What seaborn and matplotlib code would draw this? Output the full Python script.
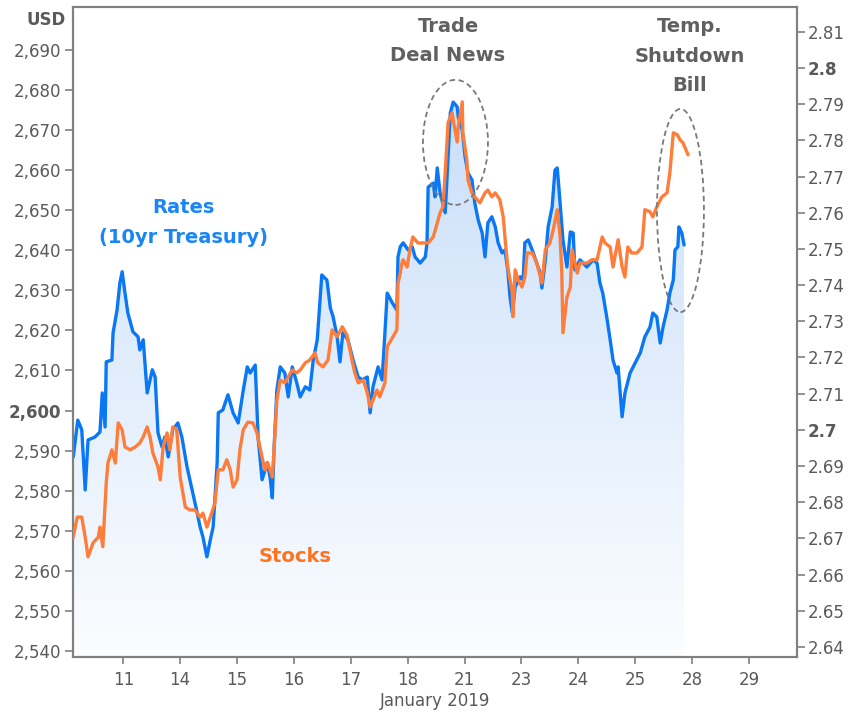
import numpy as np
import pandas as pd
import seaborn as sns
import matplotlib.pyplot as plt
from matplotlib.colors import LinearSegmentedColormap
from matplotlib.patches import Ellipse, PathPatch

# positions are trading sessions: 1 = Jan 11, 2 = Jan 14, ... 12 = Jan 29
day_labels = ['11', '14', '15', '16', '17', '18', '21', '23', '24', '25', '28', '29']

# 10yr Treasury yield (right axis)
rate_t = [0.12, 0.20, 0.27, 0.33, 0.38, 0.50, 0.59, 0.63, 0.68, 0.70,
          0.80, 0.82, 0.89, 0.94, 0.98, 1.03, 1.08, 1.17, 1.26, 1.29,
          1.35, 1.42, 1.51, 1.56, 1.61, 1.68, 1.73, 1.79, 1.87, 1.96,
          2.03, 2.12, 2.21, 2.30, 2.35, 2.40, 2.47, 2.53, 2.58, 2.65,
          2.67, 2.75, 2.84, 2.93, 3.02, 3.11, 3.18, 3.23, 3.32, 3.37,
          3.44, 3.53, 3.58, 3.62, 3.65, 3.70, 3.76, 3.84, 3.90, 3.97,
          4.05, 4.11, 4.20, 4.28, 4.34, 4.41, 4.49, 4.58, 4.64, 4.69,
          4.76, 4.81, 4.86, 4.95, 5.04, 5.13, 5.20, 5.29, 5.34, 5.39,
          5.48, 5.55, 5.60, 5.64, 5.73, 5.81, 5.83, 5.87, 5.92, 6.01,
          6.08, 6.13, 6.22, 6.31, 6.34, 6.36, 6.45, 6.48, 6.52, 6.57,
          6.66, 6.71, 6.75, 6.80, 6.87, 6.89, 6.96, 7.01, 7.06, 7.13,
          7.18, 7.24, 7.31, 7.36, 7.41, 7.48, 7.54, 7.59, 7.66, 7.71,
          7.76, 7.80, 7.84, 7.89, 7.98, 8.03, 8.06, 8.12, 8.19, 8.27,
          8.33, 8.36, 8.42, 8.47, 8.54, 8.59, 8.63, 8.68, 8.73, 8.80,
          8.86, 8.91, 8.94, 9.03, 9.15, 9.26, 9.33, 9.38, 9.43, 9.50,
          9.56, 9.61, 9.68, 9.70, 9.77, 9.82, 9.91, 10.00, 10.09, 10.17,
          10.26, 10.31, 10.38, 10.44, 10.49, 10.56, 10.61, 10.67, 10.70, 10.75,
          10.77, 10.82, 10.86]
rate_vals = [2.6925, 2.7027, 2.7000, 2.6834, 2.6972, 2.6980, 2.6994, 2.7102, 2.7008, 2.7188,
             2.7193, 2.7268, 2.7331, 2.7406, 2.7437, 2.7378, 2.7323, 2.7271, 2.7257, 2.7221,
             2.7249, 2.7102, 2.7166, 2.7146, 2.6992, 2.6953, 2.6980, 2.6925, 2.7000, 2.7019,
             2.6980, 2.6898, 2.6834, 2.6770, 2.6732, 2.6704, 2.6649, 2.6696, 2.6732, 2.6909,
             2.7047, 2.7055, 2.7097, 2.7047, 2.7019, 2.7110, 2.7174, 2.7157, 2.7179, 2.6980,
             2.6862, 2.6909, 2.6870, 2.6812, 2.6945, 2.7110, 2.7174, 2.7157, 2.7091, 2.7174,
             2.7130, 2.7091, 2.7119, 2.7110, 2.7193, 2.7249, 2.7428, 2.7414, 2.7337, 2.7312,
             2.7257, 2.7188, 2.7268, 2.7249, 2.7193, 2.7146, 2.7138, 2.7146, 2.7047, 2.7119,
             2.7174, 2.7138, 2.7268, 2.7378, 2.7351, 2.7331, 2.7478, 2.7506, 2.7517, 2.7497,
             2.7506, 2.7478, 2.7461, 2.7478, 2.7517, 2.7671, 2.7682, 2.7644, 2.7724, 2.7655,
             2.7600, 2.7754, 2.7876, 2.7906, 2.7893, 2.7865, 2.7829, 2.7754, 2.7710, 2.7691,
             2.7627, 2.7580, 2.7544, 2.7478, 2.7572, 2.7589, 2.7561, 2.7517, 2.7489, 2.7497,
             2.7442, 2.7367, 2.7323, 2.7395, 2.7423, 2.7414, 2.7517, 2.7525, 2.7497, 2.7461,
             2.7434, 2.7392, 2.7470, 2.7561, 2.7616, 2.7718, 2.7724, 2.7627, 2.7525, 2.7450,
             2.7547, 2.7544, 2.7442, 2.7470, 2.7450, 2.7470, 2.7461, 2.7406, 2.7378, 2.7312,
             2.7249, 2.7193, 2.7157, 2.7174, 2.7036, 2.7102, 2.7157, 2.7185, 2.7213, 2.7257,
             2.7284, 2.7323, 2.7312, 2.7240, 2.7284, 2.7331, 2.7378, 2.7414, 2.7497, 2.7506,
             2.7561, 2.7544, 2.7511]

# S&P 500 futures in USD (left axis)
stock_t = [0.12, 0.19, 0.27, 0.33, 0.38, 0.47, 0.56, 0.59, 0.64, 0.70,
           0.73, 0.80, 0.86, 0.91, 0.98, 1.03, 1.12, 1.21, 1.29, 1.35,
           1.42, 1.47, 1.52, 1.61, 1.65, 1.70, 1.77, 1.82, 1.87, 1.94,
           2.00, 2.09, 2.17, 2.26, 2.35, 2.40, 2.47, 2.53, 2.61, 2.67,
           2.75, 2.82, 2.88, 2.93, 3.00, 3.05, 3.11, 3.19, 3.28, 3.35,
           3.44, 3.49, 3.54, 3.62, 3.65, 3.70, 3.76, 3.84, 3.90, 3.97,
           4.05, 4.11, 4.20, 4.28, 4.37, 4.42, 4.51, 4.60, 4.67, 4.76,
           4.85, 4.93, 5.02, 5.07, 5.13, 5.22, 5.29, 5.34, 5.39, 5.46,
           5.51, 5.60, 5.64, 5.74, 5.81, 5.83, 5.87, 5.90, 5.92, 5.99,
           6.04, 6.09, 6.18, 6.27, 6.36, 6.45, 6.52, 6.57, 6.62, 6.67,
           6.71, 6.78, 6.80, 6.87, 6.89, 6.96, 6.97, 7.04, 7.06, 7.13,
           7.18, 7.27, 7.36, 7.41, 7.48, 7.54, 7.62, 7.68, 7.71, 7.76,
           7.84, 7.85, 7.89, 7.94, 8.01, 8.06, 8.10, 8.19, 8.27, 8.36,
           8.42, 8.50, 8.56, 8.63, 8.68, 8.71, 8.73, 8.80, 8.86, 8.89,
           8.98, 9.03, 9.15, 9.24, 9.33, 9.42, 9.47, 9.56, 9.61, 9.70,
           9.77, 9.82, 9.87, 9.94, 10.03, 10.12, 10.17, 10.26, 10.31, 10.38,
           10.47, 10.56, 10.61, 10.67, 10.74, 10.79, 10.84, 10.93]
stock_vals = [2568.4, 2573.4, 2573.4, 2568.4, 2563.5, 2567.0, 2568.4, 2570.9, 2566.0, 2581.9,
              2586.9, 2590.2, 2586.9, 2596.9, 2595.2, 2590.9, 2590.2, 2590.9, 2591.9, 2593.4,
              2595.9, 2593.4, 2589.4, 2585.9, 2582.7, 2590.9, 2594.4, 2590.2, 2595.9, 2595.2,
              2583.4, 2575.9, 2575.2, 2575.2, 2573.4, 2574.4, 2570.9, 2573.4, 2576.9, 2585.2,
              2585.2, 2587.7, 2585.2, 2580.9, 2582.7, 2590.2, 2595.2, 2597.1, 2596.9, 2594.4,
              2588.4, 2585.2, 2586.9, 2583.4, 2590.2, 2602.6, 2607.6, 2606.9, 2608.4, 2610.1,
              2609.4, 2610.1, 2611.9, 2612.6, 2614.4, 2611.9, 2610.9, 2612.6, 2620.1, 2618.4,
              2620.9, 2618.9, 2612.6, 2609.4, 2606.9, 2607.6, 2604.4, 2600.9, 2602.6, 2605.1,
              2603.4, 2606.9, 2615.9, 2618.4, 2620.1, 2631.8, 2634.3, 2636.8, 2637.6, 2635.8,
              2640.1, 2643.3, 2641.8, 2641.8, 2641.8, 2643.3, 2646.8, 2649.3, 2650.8, 2661.8,
              2671.8, 2674.3, 2672.5, 2667.0, 2670.8, 2677.0, 2669.3, 2662.5, 2657.5, 2654.3,
              2653.3, 2651.8, 2654.3, 2655.0, 2653.3, 2654.3, 2652.6, 2648.3, 2643.3, 2635.8,
              2629.3, 2623.4, 2635.1, 2632.6, 2630.8, 2633.3, 2639.3, 2639.3, 2636.8, 2631.8,
              2640.1, 2641.8, 2645.1, 2650.1, 2643.3, 2634.3, 2619.4, 2628.3, 2630.8, 2640.1,
              2634.3, 2636.8, 2636.8, 2637.6, 2637.6, 2643.3, 2641.8, 2640.8, 2635.8, 2642.6,
              2635.8, 2633.3, 2640.8, 2639.3, 2639.3, 2640.8, 2650.1, 2649.6, 2648.3, 2650.8,
              2653.3, 2654.3, 2659.3, 2669.3, 2668.8, 2667.5, 2666.8, 2663.8]

rates = pd.DataFrame({'t': rate_t, 'rate': rate_vals})
stocks = pd.DataFrame({'t': stock_t, 'price': stock_vals})

sns.set_style('white')
plt.rcParams['font.family'] = ['DejaVu Sans']

BLUE = '#0a78f5'
ORANGE = '#ff7d3b'
GRAY_TXT = '#5a5a5a'
GRAY_AX = '#808080'
XLIM = (0.11, 12.84)
RLIM = (2.6372, 2.8168)
SLIM = (2538.5, 2700.6)

fig = plt.figure(figsize=(8.49, 7.14), dpi=100)
ax = fig.add_axes([0.0856, 0.0798, 0.8528, 0.91])
ax2 = ax.twinx()
ax.set_zorder(ax2.get_zorder() + 1)
ax.patch.set_visible(False)

# gradient area under the rates line
band = ax2.fill_between(rates['t'], rates['rate'], RLIM[0], facecolor='none', edgecolor='none')
clip = PathPatch(band.get_paths()[0], transform=ax2.transData, facecolor='none', edgecolor='none')
ax2.add_patch(clip)
grad = np.linspace(0, 1, 256).reshape(-1, 1)
cmap = LinearSegmentedColormap.from_list('fill', ['#fbfdff', '#c2daf8'])
im = ax2.imshow(grad, extent=[XLIM[0], XLIM[1], RLIM[0], RLIM[1]], origin='lower',
                aspect='auto', cmap=cmap, zorder=0)
im.set_clip_path(clip)

sns.lineplot(data=rates, x='t', y='rate', ax=ax2, color=BLUE, lw=2.4, estimator=None, zorder=3)
sns.lineplot(data=stocks, x='t', y='price', ax=ax, color=ORANGE, lw=2.4, estimator=None, zorder=3)

ax.set_xlim(XLIM)
ax.set_ylim(SLIM)
ax2.set_ylim(RLIM)

# ticks
s_ticks = list(range(2540, 2691, 10))
ax.set_yticks(s_ticks)
ax.set_yticklabels([f'{v:,}' for v in s_ticks])
r_ticks = np.round(np.arange(2.64, 2.8101, 0.01), 2)
ax2.set_yticks(r_ticks)
ax2.set_yticklabels([f'{v:.2f}'.rstrip('0') for v in r_ticks])
ax.set_xticks(range(1, 13))
ax.set_xticklabels(day_labels)

ax.tick_params(axis='y', left=True, length=6, width=1.2, color=GRAY_AX,
               labelcolor=GRAY_TXT, labelsize=12, pad=2)
ax.tick_params(axis='x', bottom=True, length=5, width=1.2, color=GRAY_AX,
               labelcolor=GRAY_TXT, labelsize=12, pad=5)
ax2.tick_params(axis='y', right=True, length=6, width=1.2, color=GRAY_AX,
                labelcolor=GRAY_TXT, labelsize=12, pad=2)

for lab in ax.get_yticklabels():
    if lab.get_text() == '2,600':
        lab.set_fontweight('bold')
for lab in ax2.get_yticklabels():
    if lab.get_text() in ('2.8', '2.7'):
        lab.set_fontweight('bold')

ax.set_ylabel('')
ax2.set_ylabel('')
ax.set_xlabel('January 2019', color=GRAY_TXT, fontsize=12, labelpad=2)

for a in (ax, ax2):
    for sp in a.spines.values():
        sp.set_visible(True)
        sp.set_color(GRAY_AX)
        sp.set_linewidth(1.5)

fig.text(46 / 849, 1 - 20 / 714, 'USD', ha='center', va='center',
         fontsize=12, fontweight='bold', color=GRAY_TXT)

# annotations
ax.text(2.05, 2647.0, 'Rates\n(10yr Treasury)', ha='center', va='center',
        fontsize=14, fontweight='bold', color='#1a86f5', linespacing=1.75)
ax.text(4.02, 2563.5, 'Stocks', ha='center', va='center',
        fontsize=14, fontweight='bold', color='#ff7320')
ax.text(6.71, 2692.2, 'Trade\nDeal News', ha='center', va='center',
        fontsize=14, fontweight='bold', color='#606060', linespacing=1.68)
ax.text(10.96, 2688.4, 'Temp.\nShutdown\nBill', ha='center', va='center',
        fontsize=14, fontweight='bold', color='#606060', linespacing=1.7)

ax.add_patch(Ellipse((6.84, 2666.9), 1.143, 31.2, fill=False, ls=(0, (3, 2)),
                     ec='#7a7a7a', lw=1.3, zorder=4))
ax.add_patch(Ellipse((10.796, 2649.9), 0.826, 50.7, fill=False, ls=(0, (3, 2)),
                     ec='#7a7a7a', lw=1.3, zorder=4))

fig.savefig('out.png', dpi=100)
